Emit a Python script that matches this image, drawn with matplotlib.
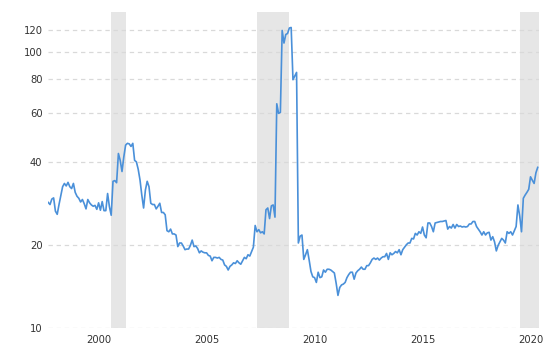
import numpy as np
import matplotlib
matplotlib.use("Agg")
import matplotlib.pyplot as plt
from matplotlib.ticker import NullLocator, FixedLocator, FixedFormatter

# Monthly P/E ratio, starting April 1998
start_year = 1998
start_month = 4
pe_values = [
    28.5, 28.0, 29.3, 29.6, 26.5, 25.8, 28.0, 30.2, 32.5, 33.4,
    32.7, 33.7, 32.5, 32.0, 33.4, 31.0, 30.0, 29.5, 28.6, 29.2,
    28.2, 27.0, 29.2, 28.4, 27.9, 27.6, 27.8, 26.9, 28.4, 26.7,
    28.7, 26.6, 26.6, 30.7, 27.5, 25.6, 34.0, 34.2, 33.6, 42.9,
    40.5, 36.9, 41.7, 46.0, 46.7, 46.5, 45.5, 46.7, 40.5, 40.0,
    37.6, 34.4, 30.3, 27.2, 31.6, 34.0, 32.5, 28.3, 28.0, 28.0,
    27.0, 27.6, 28.3, 26.2, 26.2, 25.7, 22.5, 22.3, 22.8, 21.9,
    21.9, 21.7, 19.7, 20.3, 20.3, 19.8, 19.2, 19.3, 19.3, 19.9,
    20.8, 19.7, 19.8, 19.4, 18.7, 19.0, 18.8, 18.7, 18.7, 18.3,
    18.2, 17.5, 18.0, 18.0, 17.9, 18.0, 17.7, 17.6, 16.9, 16.7,
    16.2, 16.7, 16.9, 17.2, 17.1, 17.5, 17.2, 17.0, 17.5, 18.0,
    17.8, 18.4, 18.2, 18.9, 19.6, 23.5, 22.3, 22.7, 22.1, 22.3,
    21.9, 26.8, 27.2, 24.9, 27.7, 27.9, 25.2, 65.0, 60.0, 60.5,
    120.0, 108.0, 116.0, 117.0, 122.5, 123.0, 79.5, 82.0, 84.5, 20.3,
    21.5, 21.7, 17.7, 18.4, 19.2, 17.6, 16.0, 15.3, 15.2, 14.6,
    15.9, 15.2, 15.3, 16.2, 15.9, 16.3, 16.3, 16.2, 16.0, 15.8,
    14.5, 13.1, 14.0, 14.3, 14.4, 14.6, 15.2, 15.6, 15.9, 15.9,
    15.0, 15.8, 16.1, 16.3, 16.6, 16.3, 16.3, 16.8, 16.8, 17.2,
    17.7, 17.9, 17.7, 17.9, 17.6, 17.9, 18.1, 18.1, 18.6, 17.7,
    18.7, 18.4, 18.6, 18.9, 18.7, 19.2, 18.4, 19.2, 19.6, 20.0,
    20.3, 20.3, 21.1, 21.0, 22.0, 21.7, 22.3, 22.0, 23.2, 21.7,
    21.2, 24.0, 24.0, 23.3, 22.3, 24.0, 24.1, 24.2, 24.3, 24.3,
    24.4, 24.5, 22.8, 23.3, 23.0, 23.7, 23.0, 23.7, 23.3, 23.4,
    23.2, 23.3, 23.2, 23.3, 23.8, 23.8, 24.3, 24.3, 23.3, 22.8,
    22.3, 21.7, 22.3, 21.7, 22.1, 22.2, 20.8, 21.4, 20.5, 19.0,
    19.9, 20.5, 21.1, 20.8, 20.3, 22.3, 22.0, 22.3, 21.7, 22.5,
    23.3, 27.9, 25.4, 22.3, 29.5, 30.3, 31.0, 31.8, 35.3, 34.3,
    33.4, 36.5, 38.2,
]

recession_starts = [2001.17, 2007.92, 2020.08]
recession_ends = [2001.83, 2009.42, 2021.0]

y_ticks = [10, 20, 40, 60, 80, 100, 120]
y_tick_labels = ["10", "20", "40", "60", "80", "100", "120"]
x_tick_years = [2000, 2005, 2010, 2015, 2020]
x_tick_labels = ["2000", "2005", "2010", "2015", "2020"]

x = start_year + (start_month - 1) / 12 + np.arange(len(pe_values)) / 12

fig = plt.figure(figsize=(5.54, 3.46), dpi=100)
ax = fig.add_axes([48 / 554, 1 - 327.7 / 346, (539.3 - 48) / 554, (327.7 - 12) / 346])

for s, e in zip(recession_starts, recession_ends):
    ax.axvspan(s, e, color="#e6e6e6", lw=0, zorder=0)

ax.plot(x, pe_values, color="#4a90d9", lw=1.2, zorder=3)

ax.set_yscale("log")
ax.set_ylim(10, 140)
ax.set_xlim(1998.24, 2020.99)

ax.yaxis.set_major_locator(FixedLocator(y_ticks))
ax.yaxis.set_major_formatter(FixedFormatter(y_tick_labels))
ax.yaxis.set_minor_locator(NullLocator())
ax.set_xticks([yr + 0.6 for yr in x_tick_years])
ax.set_xticklabels(x_tick_labels)
ax.xaxis.set_minor_locator(NullLocator())

ax.grid(axis="y", color="#d9d9d9", linestyle=(0, (3.5, 3)), linewidth=0.9, zorder=1)
ax.set_axisbelow(False)
for sp in ax.spines.values():
    sp.set_visible(False)

ax.tick_params(axis="both", length=0, labelsize=7.2, colors="#333333")
ax.tick_params(axis="y", pad=4)
ax.tick_params(axis="x", pad=5)

fig.savefig("out.png", dpi=100)
